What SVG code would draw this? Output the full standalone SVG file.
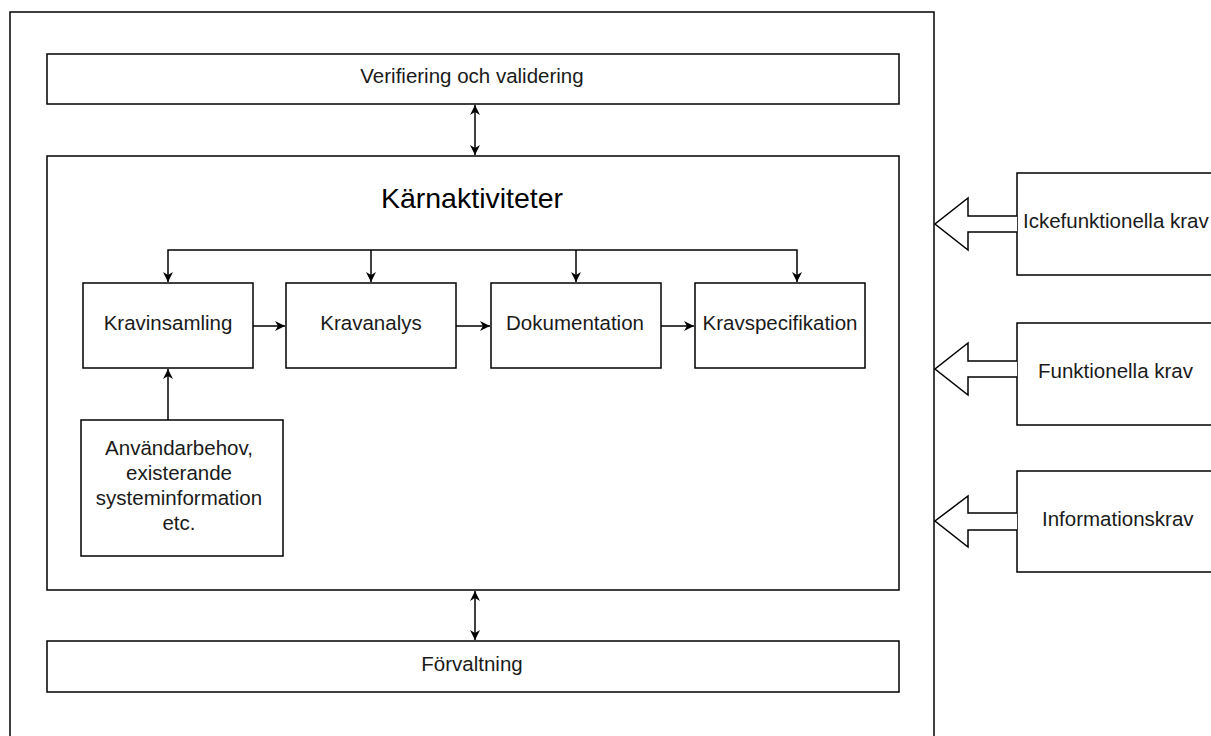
<svg xmlns="http://www.w3.org/2000/svg" width="1211" height="736" viewBox="0 0 1211 736">
<defs>
<style>
.box{fill:#fff;stroke:#000;stroke-width:1.5}
.lbl{font-family:"Liberation Sans",Arial,sans-serif;font-size:20.5px;fill:#1a1a1a;text-anchor:middle}
.lbs{font-family:"Liberation Sans",Arial,sans-serif;font-size:20.5px;fill:#1a1a1a}
.ttl{font-family:"Liberation Sans",Arial,sans-serif;font-size:28.5px;fill:#000;text-anchor:middle}
.con{fill:none;stroke:#000;stroke-width:1.5}
.blk{fill:#fff;stroke:#000;stroke-width:1.5;stroke-linejoin:miter}
</style>
<marker id="ah" viewBox="0 0 10 10" refX="10" refY="5" markerWidth="10" markerHeight="10" markerUnits="userSpaceOnUse" orient="auto-start-reverse">
<path d="M0,0 L10,5 L0,10 L3,5 Z" fill="#000"/>
</marker>
</defs>
<rect width="1211" height="736" fill="#fff"/>
<g id="outer"><rect class="box" x="10" y="12" width="924" height="740"/></g>
<g id="verifiering"><rect class="box" x="47" y="54" width="852" height="50"/><text class="lbl" x="472" y="83">Verifiering och validering</text></g>
<g id="karn"><rect class="box" x="47" y="156" width="852" height="434"/><text class="ttl" x="472" y="208">Kärnaktiviteter</text></g>
<g id="kravinsamling"><rect class="box" x="83" y="283" width="170" height="85"/><text class="lbl" x="168" y="330">Kravinsamling</text></g>
<g id="kravanalys"><rect class="box" x="286" y="283" width="170" height="85"/><text class="lbl" x="371" y="330">Kravanalys</text></g>
<g id="dokumentation"><rect class="box" x="491" y="283" width="170" height="85"/><text class="lbl" x="575" y="330">Dokumentation</text></g>
<g id="kravspecifikation"><rect class="box" x="695" y="283" width="170" height="85"/><text class="lbl" x="780" y="330">Kravspecifikation</text></g>
<g id="anvandarbehov"><rect class="box" x="81" y="420" width="202" height="136"/>
<text class="lbl" x="179" y="455">Användarbehov,</text>
<text class="lbl" x="179" y="480">existerande</text>
<text class="lbl" x="179" y="505">systeminformation</text>
<text class="lbl" x="179" y="530">etc.</text></g>
<g id="forvaltning"><rect class="box" x="47" y="641" width="852" height="51"/><text class="lbl" x="472" y="671">Förvaltning</text></g>
<g id="ickefunktionella"><rect class="box" x="1017" y="173" width="230" height="102"/><text class="lbs" x="1023" y="228">Ickefunktionella krav</text></g>
<g id="funktionella"><rect class="box" x="1017" y="323" width="230" height="102"/><text class="lbs" x="1038" y="378">Funktionella krav</text></g>
<g id="informationskrav"><rect class="box" x="1017" y="471" width="230" height="101"/><text class="lbs" x="1042" y="526">Informationskrav</text></g>
<g id="connectors">
<line class="con" x1="475" y1="105" x2="475" y2="155" marker-start="url(#ah)" marker-end="url(#ah)"/>
<line class="con" x1="475" y1="591" x2="475" y2="640" marker-start="url(#ah)" marker-end="url(#ah)"/>
<polyline class="con" points="168,282 168,250 797,250 797,282" marker-start="url(#ah)" marker-end="url(#ah)"/>
<line class="con" x1="371" y1="250" x2="371" y2="282" marker-end="url(#ah)"/>
<line class="con" x1="576" y1="250" x2="576" y2="282" marker-end="url(#ah)"/>
<line class="con" x1="253" y1="326" x2="285" y2="326" marker-end="url(#ah)"/>
<line class="con" x1="456" y1="326" x2="490" y2="326" marker-end="url(#ah)"/>
<line class="con" x1="661" y1="326" x2="694" y2="326" marker-end="url(#ah)"/>
<line class="con" x1="168" y1="420" x2="168" y2="369" marker-end="url(#ah)"/>
<path class="blk" d="M1017,216 L968,216 L968,198 L935,224 L968,250 L968,232 L1017,232"/>
<path class="blk" d="M1017,361 L968,361 L968,343 L935,369 L968,395 L968,377 L1017,377"/>
<path class="blk" d="M1017,513 L968,513 L968,496 L935,521 L968,547 L968,530 L1017,530"/>
</g>
</svg>
